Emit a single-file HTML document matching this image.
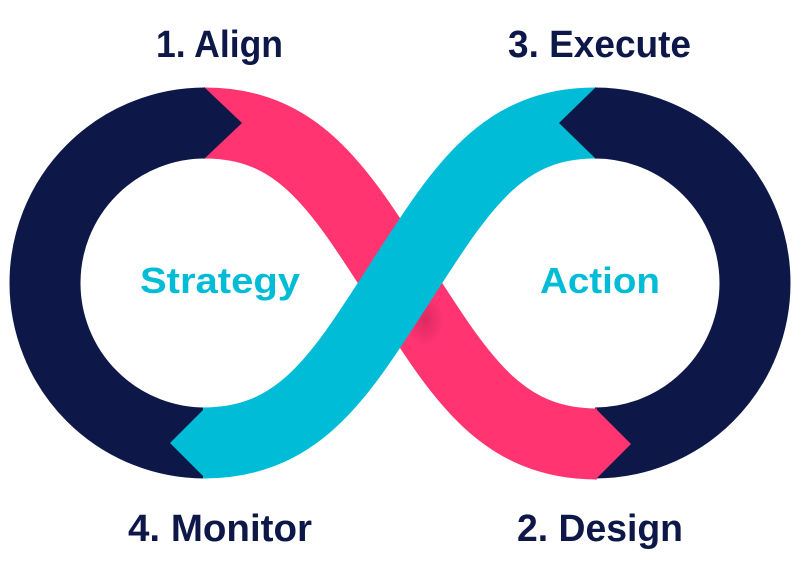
<!DOCTYPE html>
<html><head><style>html,body{margin:0;padding:0;background:#fff}svg{display:block}</style></head>
<body>
<svg width="801" height="567" viewBox="0 0 801 567" xmlns="http://www.w3.org/2000/svg">
<defs>
<radialGradient id="sh" cx="0.5" cy="0.5" r="0.5"><stop offset="0" stop-color="#8a1040" stop-opacity="0.3"/><stop offset="1" stop-color="#8a1040" stop-opacity="0"/></radialGradient>
</defs>
<path d="M205 123 A160 160 0 0 0 205 443" fill="none" stroke="#0d1849" stroke-width="71"/>
<path d="M595 123 A160 160 0 0 1 595 443" fill="none" stroke="#0d1849" stroke-width="71"/>
<path d="M205 123 C300 123, 340 190, 400 283 C460 376, 500 444, 597 444" fill="none" stroke="#ff3471" stroke-width="71"/>
<polygon points="595,408 631,444 595,480" fill="#ff3471"/>
<polygon points="204,87 242,123 204,159" fill="#0d1849"/>
<ellipse cx="425" cy="320" rx="18" ry="26" fill="url(#sh)"/>
<path d="M203 443 C300 443, 340 376, 400 283 C460 190, 500 123, 595 123" fill="none" stroke="#00bcd6" stroke-width="71"/>
<polygon points="206,407 170,443 206,479" fill="#00bcd6"/>
<polygon points="596,87 559,123 596,159" fill="#0d1849"/>
<g font-family="Liberation Sans, sans-serif" font-weight="bold">
<text x="156" y="57" font-size="38" fill="#0d1849" textLength="127" lengthAdjust="spacingAndGlyphs">1. Align</text>
<text x="508" y="57" font-size="38" fill="#0d1849" textLength="183" lengthAdjust="spacingAndGlyphs">3. Execute</text>
<text x="128" y="541" font-size="38" fill="#0d1849" textLength="184" lengthAdjust="spacingAndGlyphs">4. Monitor</text>
<text x="517" y="541" font-size="38" fill="#0d1849" textLength="166" lengthAdjust="spacingAndGlyphs">2. Design</text>
<text x="140" y="293" font-size="36" fill="#00bcd6" textLength="160" lengthAdjust="spacingAndGlyphs">Strategy</text>
<text x="540" y="293" font-size="36" fill="#00bcd6" textLength="120" lengthAdjust="spacingAndGlyphs">Action</text>
</g>
</svg>
</body></html>
